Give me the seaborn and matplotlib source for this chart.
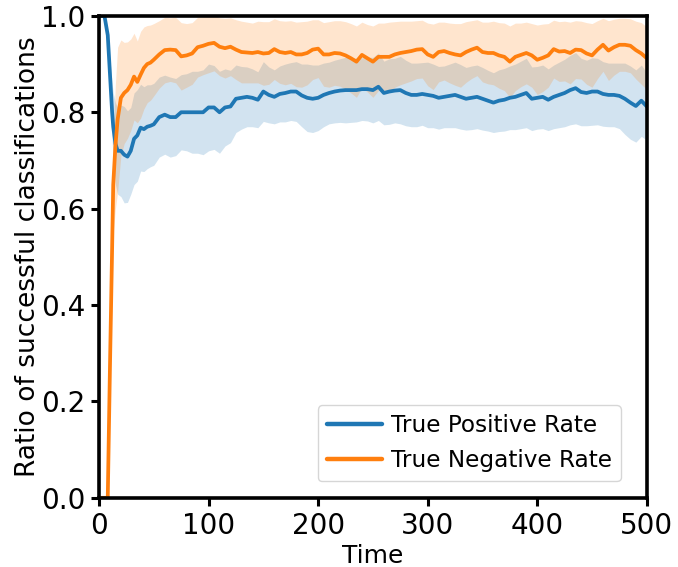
import numpy as np
import pandas as pd
import matplotlib
matplotlib.use("Agg")
import matplotlib.pyplot as plt
import seaborn as sns

# ---------------- data ----------------
time_early = [0, 5, 8, 10, 12, 13, 15, 17, 20, 23, 26, 29, 32, 35, 38, 41, 44, 47]
time_late = list(range(50, 505, 5))
time = time_early + time_late

tpr_mean = [
    1.0, 1.0, 0.96, 0.88, 0.80, 0.77, 0.735, 0.72, 0.72, 0.712, 0.708, 0.72, 0.745, 0.752, 0.768, 0.765, 0.77, 0.772,
    0.775, 0.79, 0.795, 0.79, 0.79, 0.80, 0.80, 0.80, 0.80, 0.80,
    0.81, 0.81, 0.80, 0.81, 0.812, 0.828, 0.83, 0.832, 0.83, 0.826,
    0.843, 0.836, 0.832, 0.838, 0.84, 0.843, 0.843, 0.835, 0.83, 0.828,
    0.83, 0.836, 0.84, 0.843, 0.845, 0.846, 0.846, 0.846, 0.848, 0.848,
    0.846, 0.853, 0.84, 0.843, 0.845, 0.846, 0.84, 0.836, 0.836, 0.838,
    0.836, 0.834, 0.83, 0.832, 0.834, 0.836, 0.832, 0.828, 0.83, 0.832,
    0.828, 0.824, 0.82, 0.824, 0.826, 0.83, 0.832, 0.836, 0.84, 0.828,
    0.83, 0.832, 0.826, 0.832, 0.836, 0.84, 0.846, 0.85, 0.842, 0.84,
    0.843, 0.843, 0.838, 0.836, 0.836, 0.834, 0.828, 0.82, 0.813, 0.824,
    0.812,
]
tpr_std = [
    0.0, 0.0, 0.01, 0.03, 0.06, 0.07, 0.085, 0.09, 0.095, 0.10, 0.095, 0.09, 0.095, 0.095, 0.09, 0.088, 0.087, 0.085,
    0.085, 0.083, 0.082, 0.083, 0.08, 0.078, 0.08, 0.085, 0.085, 0.088,
    0.09, 0.087, 0.085, 0.08, 0.075, 0.07, 0.065, 0.062, 0.06, 0.058,
    0.062, 0.058, 0.056, 0.058, 0.06, 0.06, 0.062, 0.065, 0.07, 0.07,
    0.068, 0.066, 0.064, 0.065, 0.066, 0.068, 0.067, 0.066, 0.065, 0.066,
    0.068, 0.07, 0.066, 0.068, 0.067, 0.07, 0.068, 0.066, 0.066, 0.065,
    0.068, 0.066, 0.065, 0.064, 0.066, 0.068, 0.067, 0.065, 0.066, 0.066,
    0.065, 0.063, 0.062, 0.064, 0.065, 0.066, 0.068, 0.07, 0.072, 0.066,
    0.065, 0.066, 0.064, 0.066, 0.068, 0.07, 0.072, 0.074, 0.07, 0.068,
    0.07, 0.069, 0.067, 0.066, 0.066, 0.068, 0.074, 0.076, 0.075, 0.074,
    0.07,
]
tnr_mean = [
    0.0, 0.0, 0.0, 0.27, 0.52, 0.65, 0.73, 0.785, 0.83, 0.84, 0.846, 0.857, 0.874, 0.863, 0.878, 0.892, 0.90, 0.903,
    0.909, 0.92, 0.929, 0.93, 0.929, 0.916, 0.918, 0.922, 0.935, 0.938,
    0.942, 0.944, 0.936, 0.933, 0.936, 0.93, 0.925, 0.924, 0.923, 0.925,
    0.922, 0.923, 0.931, 0.925, 0.923, 0.925, 0.92, 0.92, 0.923, 0.93,
    0.932, 0.92, 0.92, 0.923, 0.922, 0.918, 0.912, 0.905, 0.919, 0.912,
    0.905, 0.915, 0.915, 0.915, 0.92, 0.923, 0.925, 0.927, 0.93, 0.931,
    0.92, 0.915, 0.925, 0.927, 0.923, 0.92, 0.918, 0.925, 0.93, 0.934,
    0.925, 0.923, 0.923, 0.918, 0.915, 0.905, 0.915, 0.919, 0.923, 0.918,
    0.909, 0.913, 0.918, 0.931, 0.926, 0.927, 0.923, 0.93, 0.929, 0.922,
    0.918, 0.93, 0.94, 0.928, 0.935, 0.94, 0.94, 0.938, 0.929, 0.922,
    0.912,
]
tnr_std = [
    0.0, 0.0, 0.005, 0.05, 0.09, 0.10, 0.13, 0.15, 0.12, 0.105, 0.10, 0.095, 0.09, 0.085, 0.09, 0.085, 0.08, 0.078,
    0.075, 0.07, 0.068, 0.066, 0.068, 0.07, 0.066, 0.064, 0.062, 0.06,
    0.06, 0.058, 0.06, 0.062, 0.06, 0.062, 0.064, 0.063, 0.062, 0.064,
    0.066, 0.065, 0.063, 0.065, 0.066, 0.065, 0.067, 0.068, 0.066, 0.062,
    0.06, 0.066, 0.068, 0.067, 0.068, 0.07, 0.072, 0.074, 0.068, 0.07,
    0.074, 0.07, 0.07, 0.072, 0.068, 0.066, 0.064, 0.062, 0.06, 0.06,
    0.065, 0.068, 0.062, 0.06, 0.062, 0.064, 0.066, 0.063, 0.06, 0.058,
    0.062, 0.064, 0.066, 0.068, 0.07, 0.074, 0.07, 0.066, 0.064, 0.066,
    0.072, 0.07, 0.066, 0.06, 0.062, 0.062, 0.064, 0.06, 0.06, 0.064,
    0.066, 0.06, 0.055, 0.062, 0.058, 0.055, 0.055, 0.056, 0.06, 0.064,
    0.065,
]
series_names = ["True Positive Rate", "True Negative Rate"]
colors = ["#1f77b4", "#ff7f0e"]

# ---------------- plot ----------------
sns.set_style("ticks")
plt.rcParams["font.family"] = ["DejaVu Sans"]
plt.rcParams["text.color"] = "black"
plt.rcParams["axes.labelcolor"] = "black"
plt.rcParams["xtick.color"] = "black"
plt.rcParams["ytick.color"] = "black"

df = pd.DataFrame({
    "Time": time * 2,
    "value": tpr_mean + tnr_mean,
    "series": [series_names[0]] * len(time) + [series_names[1]] * len(time),
})

fig = plt.figure(figsize=(6.78, 5.67), dpi=100)
ax = fig.add_axes([0.146, 0.122, 0.808, 0.850])

t = np.array(time)
for mean, std, c in [(tpr_mean, tpr_std, colors[0]), (tnr_mean, tnr_std, colors[1])]:
    m = np.array(mean)
    s = np.array(std)
    ax.fill_between(t, m - s, m + s, color=c, alpha=0.2, linewidth=0)

sns.lineplot(data=df, x="Time", y="value", hue="series", palette=colors,
             hue_order=series_names, linewidth=2.7, ax=ax)

ax.set_xlim(0, 500)
ax.set_ylim(0, 1.0)
ax.set_xticks([0, 100, 200, 300, 400, 500])
ax.set_yticks([0.0, 0.2, 0.4, 0.6, 0.8, 1.0])
ax.set_xlabel("Time", fontsize=18, labelpad=3)
ax.set_ylabel("Ratio of successful classifications", fontsize=19, labelpad=0)
ax.tick_params(axis="both", labelsize=20, width=2.2, length=6, color="black", pad=4)
for sp in ax.spines.values():
    sp.set_linewidth(2.6)
    sp.set_color("black")

leg = ax.legend(loc="lower right", bbox_to_anchor=(0.987, -0.004), fontsize=16.7,
                frameon=True, borderaxespad=0.8, handlelength=2.35, handletextpad=0.4)
for line in leg.get_lines():
    line.set_linewidth(3.2)
for txt in leg.get_texts():
    txt.set_color("black")

fig.savefig("out.png", dpi=100)
